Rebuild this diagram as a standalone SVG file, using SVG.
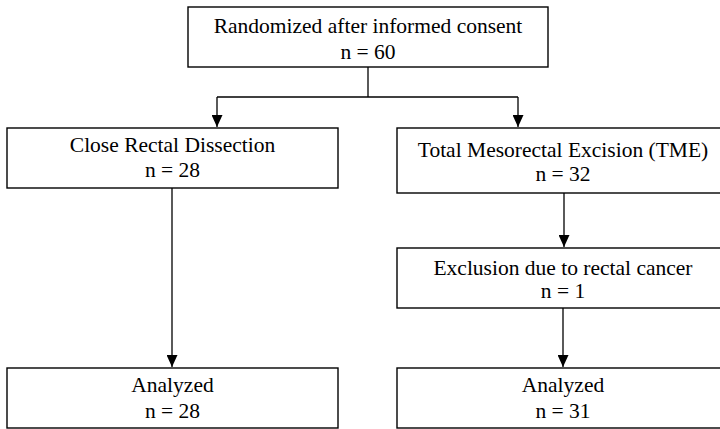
<svg xmlns="http://www.w3.org/2000/svg" width="720" height="429" viewBox="0 0 720 429">
<style>
.box{fill:#fff;stroke:#000;stroke-width:1.4}
.t{font-family:"Liberation Serif","Times New Roman",serif;font-size:21.5px;fill:#000;text-anchor:middle}
.c{fill:none;stroke:#000;stroke-width:1.3}
</style>
<defs>
<marker id="ah" markerWidth="12" markerHeight="11" refX="12" refY="5.5" orient="auto" markerUnits="userSpaceOnUse" viewBox="0 0 12 11">
<path d="M0,0 L12,5.5 L0,11 Z" fill="#000"/>
</marker>
</defs>
<rect width="720" height="429" fill="#fff"/>
<g id="connectors">
<path class="c" d="M368,67 V97"/>
<path class="c" d="M217,97 H518"/>
<path class="c" d="M217,97 V127" marker-end="url(#ah)"/>
<path class="c" d="M518,97 V127" marker-end="url(#ah)"/>
<path class="c" d="M172,188 V367" marker-end="url(#ah)"/>
<path class="c" d="M564,193 V247" marker-end="url(#ah)"/>
<path class="c" d="M563,308 V367" marker-end="url(#ah)"/>
</g>
<g id="n_random">
<rect class="box" x="188" y="7" width="360" height="60"/>
<text class="t" x="368" y="33">Randomized after informed consent</text>
<text class="t" x="368" y="59">n = 60</text>
</g>
<g id="n_close">
<rect class="box" x="7" y="128" width="331" height="60"/>
<text class="t" x="172.5" y="152">Close Rectal Dissection</text>
<text class="t" x="172.5" y="177">n = 28</text>
</g>
<g id="n_tme">
<rect class="box" x="397" y="128" width="330" height="65"/>
<text class="t" x="563" y="157">Total Mesorectal Excision (TME)</text>
<text class="t" x="563" y="181">n = 32</text>
</g>
<g id="n_excl">
<rect class="box" x="397" y="248" width="330" height="60"/>
<text class="t" x="563" y="275">Exclusion due to rectal cancer</text>
<text class="t" x="563" y="298">n = 1</text>
</g>
<g id="n_an1">
<rect class="box" x="7" y="368" width="331" height="60"/>
<text class="t" x="172.5" y="392">Analyzed</text>
<text class="t" x="172.5" y="418">n = 28</text>
</g>
<g id="n_an2">
<rect class="box" x="397" y="368" width="330" height="60"/>
<text class="t" x="563" y="392">Analyzed</text>
<text class="t" x="563" y="418">n = 31</text>
</g>
</svg>
